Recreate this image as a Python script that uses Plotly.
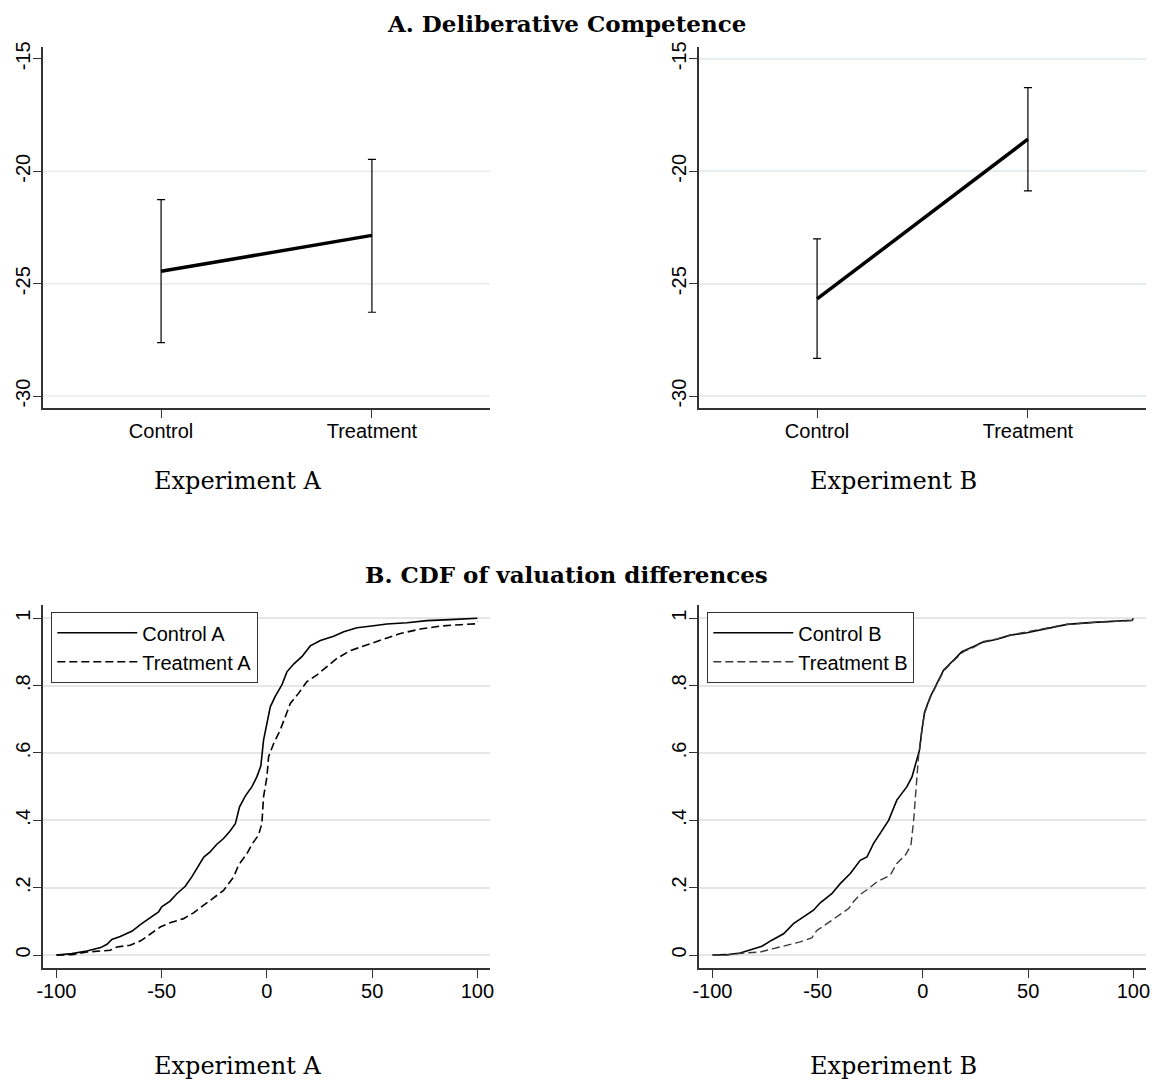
import plotly.graph_objects as go

# ---------------- data ----------------
groups = ["Control", "Treatment"]
group_pos = [0, 1]

compA_mean = [-24.45, -22.85]
compA_hi = [-21.26, -19.47]
compA_lo = [-27.62, -26.27]

compB_mean = [-25.68, -18.57]
compB_hi = [-23.01, -16.28]
compB_lo = [-28.32, -20.87]

comp_yticks = [-15, -20, -25, -30]
comp_yticklabels = ["-15", "-20", "-25", "-30"]
cdf_yticks = [0, 0.2, 0.4, 0.6, 0.8, 1]
cdf_yticklabels = ["0", ".2", ".4", ".6", ".8", "1"]
cdf_xticks = [-100, -50, 0, 50, 100]
cdf_xticklabels = ["-100", "-50", "0", "50", "100"]

ctrlA_x = [-100, -92.7, -85.6, -79, -76, -73.7, -69.7, -64, -60, -55.5, -51.5, -50, -46, -42.8, -38.8,
           -35.7, -33.3, -30, -27, -23.8, -20.6, -17.4, -15, -13, -10.3, -7.1, -4.8, -2.9, -1.6, 0,
           1.6, 4, 7.1, 9.5, 12.7, 16.6, 20.6, 25.4, 31.7, 36.5, 42.8, 50.7, 57, 66.6, 76, 87, 100, 100]
ctrlA_y = [0, 0.004, 0.012, 0.022, 0.032, 0.046, 0.055, 0.071, 0.091, 0.11, 0.128, 0.143, 0.16, 0.182, 0.204,
           0.232, 0.257, 0.291, 0.306, 0.329, 0.346, 0.369, 0.39, 0.44, 0.472, 0.5, 0.529, 0.561, 0.638, 0.688,
           0.737, 0.769, 0.802, 0.841, 0.864, 0.886, 0.918, 0.934, 0.947, 0.96, 0.972, 0.978, 0.983, 0.987, 0.993, 0.996, 0.998, 1.0]

treatA_x = [-100, -92.7, -85.6, -79, -74.5, -71.3, -65, -60, -55.5, -50.7, -46, -39.6, -34.9, -30, -25.4,
            -20.6, -15.8, -13.5, -9.5, -7.1, -4, -2.4, -1.6, 0, 0.8, 3.2, 6.3, 9.5, 11.1, 15, 19, 23.8,
            28.5, 33.3, 39.6, 46, 52.3, 57, 63.4, 72.9, 82.4, 92, 100, 100]
treatA_y = [0, 0.001, 0.009, 0.011, 0.014, 0.024, 0.029, 0.042, 0.063, 0.083, 0.096, 0.108, 0.125, 0.148, 0.167,
            0.192, 0.232, 0.267, 0.301, 0.329, 0.356, 0.39, 0.47, 0.529, 0.589, 0.628, 0.668, 0.717, 0.747, 0.777, 0.812, 0.832,
            0.856, 0.881, 0.904, 0.918, 0.931, 0.941, 0.955, 0.968, 0.977, 0.981, 0.984, 0.99]

ctrlB_x = [-100, -93.2, -86.8, -82, -76.5, -71.8, -66.2, -61.5, -56.7, -52, -48.8, -43.3, -39.3, -34.5, -29.8,
           -26.6, -23.5, -19.5, -16.3, -12.4, -7.6, -5.2, -2.9, -1.6, -0.5, 0.8, 3.5, 6.7, 9.8, 13.8, 18.5,
           24.1, 28, 35.2, 41.5, 49.4, 57.4, 68.5, 81.1, 89, 99.4, 100]
ctrlB_y = [0, 0.001, 0.006, 0.016, 0.026, 0.044, 0.063, 0.093, 0.113, 0.133, 0.155, 0.182, 0.212, 0.242, 0.281,
           0.291, 0.331, 0.371, 0.4, 0.46, 0.5, 0.529, 0.579, 0.609, 0.668, 0.722, 0.767, 0.807, 0.846, 0.871, 0.901,
           0.916, 0.928, 0.938, 0.95, 0.957, 0.967, 0.982, 0.988, 0.991, 0.994, 1.0]

treatB_x = [-100, -93.2, -85.3, -77.3, -71, -64.7, -58.3, -52.8, -50.4, -45.6, -40.9, -35.3, -33, -29.8, -25.8,
            -21.9, -15.5, -12.4, -8.4, -5.7, -4.4, -3.2, -2.1, -0.5, 0.8, 3.5, 6.7, 9.8, 14.6, 19.3, 24.1,
            28.8, 35.2, 41.5, 49.4, 57.4, 68.5, 81.1, 99.4, 100]
treatB_y = [0, 0.0, 0.006, 0.009, 0.019, 0.029, 0.039, 0.051, 0.073, 0.093, 0.113, 0.138, 0.158, 0.18, 0.197,
            0.217, 0.237, 0.272, 0.296, 0.326, 0.4, 0.509, 0.589, 0.668, 0.718, 0.765, 0.804, 0.843, 0.874, 0.901, 0.914,
            0.931, 0.939, 0.95, 0.96, 0.97, 0.982, 0.988, 0.993, 0.997]

# ---------------- style ----------------
OFF = 8                      # page body margin offset
W, H = 1160 - OFF, 1084 - OFF
SANS = "Liberation Sans, Arial, Helvetica, sans-serif"
SERIF = "DejaVu Serif, serif"
AX = "#333333"

def px_x(a, b):
    return [(a - OFF) / W, (b - OFF) / W]

def px_y(top, bottom):
    return [1 - (bottom - OFF) / H, 1 - (top - OFF) / H]

fig = go.Figure()

def err(mean, hi, lo):
    return ([h - m for h, m in zip(hi, mean)], [m - l for m, l in zip(mean, lo)])

for i, (mean, hi, lo) in enumerate([(compA_mean, compA_hi, compA_lo), (compB_mean, compB_hi, compB_lo)]):
    up, dn = err(mean, hi, lo)
    fig.add_trace(go.Scatter(
        x=group_pos, y=mean, mode="lines",
        line=dict(color="black", width=3.5),
        error_y=dict(type="data", array=up, arrayminus=dn, color="black", thickness=1.2, width=4),
        xaxis="x" if i == 0 else "x2", yaxis="y" if i == 0 else "y2",
        showlegend=False, hoverinfo="skip"))

fig.add_trace(go.Scatter(x=ctrlA_x, y=ctrlA_y, mode="lines", name="Control A",
                         line=dict(color="black", width=1.6), xaxis="x3", yaxis="y3", legend="legend"))
fig.add_trace(go.Scatter(x=treatA_x, y=treatA_y, mode="lines", name="Treatment A",
                         line=dict(color="black", width=1.6, dash="8px,4px"), xaxis="x3", yaxis="y3", legend="legend"))
fig.add_trace(go.Scatter(x=ctrlB_x, y=ctrlB_y, mode="lines", name="Control B",
                         line=dict(color="black", width=1.6), xaxis="x4", yaxis="y4", legend="legend2"))
fig.add_trace(go.Scatter(x=treatB_x, y=treatB_y, mode="lines", name="Treatment B",
                         line=dict(color="#3a3a3a", width=1.4, dash="8px,4px"), xaxis="x4", yaxis="y4", legend="legend2"))

common_x = dict(showline=True, linecolor=AX, linewidth=1.5, ticks="outside", ticklen=8, tickwidth=1.3,
                tickcolor=AX, showgrid=False, zeroline=False, automargin=False, ticklabelstandoff=-4,
                tickfont=dict(family=SANS, size=20, color="black"))
common_y = dict(showline=True, linecolor=AX, linewidth=1.5, ticks="outside", ticklen=8, tickwidth=1.3,
                tickcolor=AX, zeroline=False, tickangle=-90, automargin=False, ticklabelstandoff=-5,
                tickfont=dict(family=SANS, size=20, color="black"))

top_dom = px_y(47, 408)
bot_dom = px_y(605, 968)
left_dom = px_x(43, 490)
right_dom = px_x(699, 1146)

legend_style = dict(xanchor="left", yanchor="top", bordercolor="#333333", borderwidth=1.3,
                    bgcolor="white", font=dict(family=SANS, size=20, color="black"), itemwidth=80,
                    tracegroupgap=0)

fig.update_layout(
    width=W, height=H, margin=dict(l=0, r=0, t=0, b=0, autoexpand=False),
    paper_bgcolor="white", plot_bgcolor="white",
    xaxis=dict(common_x, domain=left_dom, anchor="y", range=[-0.56, 1.56], tickvals=group_pos, ticktext=groups),
    yaxis=dict(common_y, domain=top_dom, anchor="x", range=[-30.53, -14.47], tickvals=comp_yticks,
               ticktext=comp_yticklabels, showgrid=False),
    xaxis2=dict(common_x, domain=right_dom, anchor="y2", range=[-0.56, 1.56], tickvals=group_pos, ticktext=groups),
    yaxis2=dict(common_y, domain=top_dom, anchor="x2", range=[-30.53, -14.47], tickvals=comp_yticks,
                ticktext=comp_yticklabels, showgrid=True, gridcolor="#e6edf0", gridwidth=1.5),
    xaxis3=dict(common_x, domain=left_dom, anchor="y3", range=[-106.4, 106.0], tickvals=cdf_xticks,
                ticktext=cdf_xticklabels),
    yaxis3=dict(common_y, domain=bot_dom, anchor="x3", range=[-0.0386, 1.0395], tickvals=cdf_yticks,
                ticktext=cdf_yticklabels, showgrid=True, gridcolor="#e6e6e6", gridwidth=1.5),
    xaxis4=dict(common_x, domain=right_dom, anchor="y4", range=[-106.4, 106.0], tickvals=cdf_xticks,
                ticktext=cdf_xticklabels),
    yaxis4=dict(common_y, domain=bot_dom, anchor="x4", range=[-0.0386, 1.0395], tickvals=cdf_yticks,
                ticktext=cdf_yticklabels, showgrid=True, gridcolor="#e6e6e6", gridwidth=1.5),
    legend=dict(legend_style, x=(51 - OFF) / W, y=1 - (612 - OFF) / H),
    legend2=dict(legend_style, x=(707 - OFF) / W, y=1 - (612 - OFF) / H),
)

# grid lines in top-left panel (no line at -15 in the original)
for v in comp_yticks[1:]:
    fig.add_shape(type="line", xref="x domain", yref="y", x0=0, x1=1, y0=v, y1=v,
                  line=dict(color="#e6edf0", width=1.5), layer="below")

def note(text, x, y, size, bold=False, anchor="middle"):
    fig.add_annotation(text=f"<b>{text}</b>" if bold else text, xref="paper", yref="paper",
                       x=(x - OFF) / W, y=1 - (y - OFF) / H, showarrow=False, xanchor="center", yanchor=anchor,
                       font=dict(family=SERIF, size=size, color="black"))

note("A. Deliberative Competence", 566, OFF, 23, bold=True, anchor="top")
note("B. CDF of valuation differences", 566, 574, 23, bold=True)
note("Experiment A", 237, 481, 24)
note("Experiment B", 893, 481, 24)
note("Experiment A", 237, 1066, 24)
note("Experiment B", 893, 1066, 24)

fig.write_html("out.html")
